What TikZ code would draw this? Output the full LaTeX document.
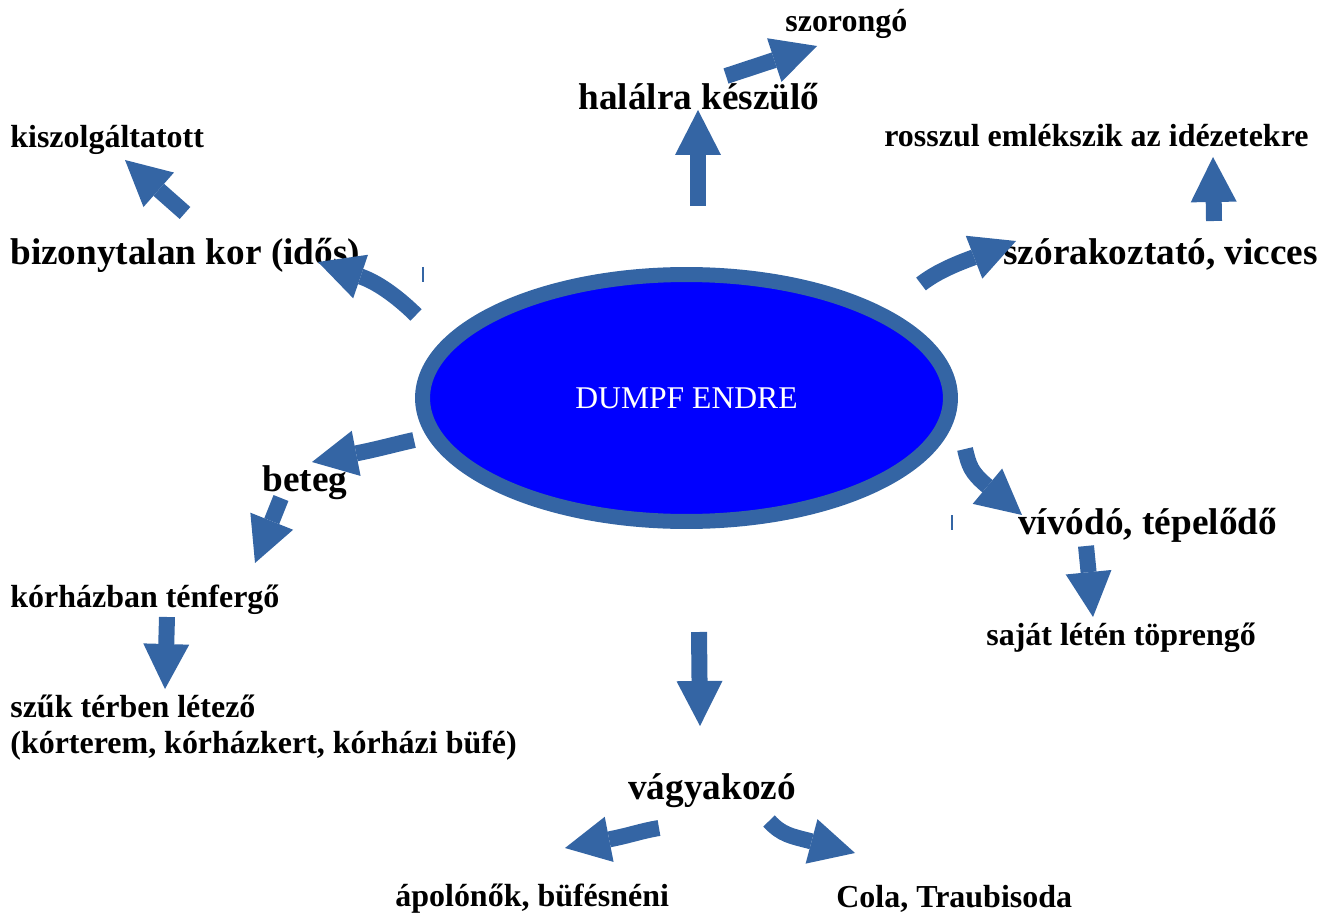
\documentclass[tikz,border=0pt]{standalone}
\usepackage{fontspec}
\setmainfont{Liberation Serif}
\usetikzlibrary{arrows.meta,shapes.geometric}
\definecolor{arrowblue}{HTML}{3465A4}

\begin{document}
\begin{tikzpicture}[x=0.02cm, y=-0.02cm,
  bigtext/.style={anchor=base west, inner sep=0pt, font=\fontsize{21.2}{25}\selectfont\bfseries},
  smalltext/.style={anchor=base west, inner sep=0pt, font=\fontsize{18.2}{22}\selectfont\bfseries},
  blockarrow/.style={draw=arrowblue, line width=0.32cm, -{Triangle[length=0.9cm, width=0.92cm, line width=0pt]}}]
 \useasboundingbox (0,0) rectangle (1334,915);

 \node[ellipse, draw=arrowblue, fill=blue, line width=0.3cm, minimum width=10.56cm, minimum height=4.94cm,
   text=white, font=\fontsize{18}{22}\selectfont] (endre) at (686.5,398) {DUMPF ENDRE};

 \node[smalltext] (szorongo) at (785,32) {szorongó};
 \node[bigtext] (halalra) at (578,110) {halálra készülő};
 \node[smalltext] (kiszolg) at (10,148) {kiszolgáltatott};
 \node[smalltext] (rosszul) at (884,147) {rosszul emlékszik az idézetekre};
 \node[bigtext] (bizonyt) at (10,265) {bizonytalan kor (idős)};
 \node[bigtext] (szorak) at (1003,265) {szórakoztató, vicces};
 \node[bigtext] (beteg) at (262,491) {beteg};
 \node[bigtext] (vivodo) at (1018,534) {vívódó, tépelődő};
 \node[smalltext] (korhaz) at (10,607) {kórházban ténfergő};
 \node[smalltext] (sajat) at (986,645) {saját létén töprengő};
 \node[smalltext] (szuk) at (10,717) {szűk térben létező};
 \node[smalltext] (korterem) at (10,753) {(kórterem, kórházkert, kórházi büfé)};
 \node[bigtext] (vagyak) at (628,799) {vágyakozó};
 \node[smalltext] (apolo) at (395,906) {ápolónők, büfésnéni};
 \node[smalltext] (cola) at (836,907) {Cola, Traubisoda};

 \coordinate (halalraS) at (698,206);   \coordinate (halalraT) at (698,110);
 \coordinate (szorongoS) at (726,76);   \coordinate (szorongoT) at (817,46);
 \coordinate (rosszulS) at (1214,221);  \coordinate (rosszulT) at (1213,157);
 \coordinate (szorakS) at (921,284);    \coordinate (szorakB) at (972,258);    \coordinate (szorakT) at (1016,241);
 \coordinate (bizonytS) at (416,315);   \coordinate (bizonytB) at (362,277);   \coordinate (bizonytT) at (318,262);
 \coordinate (kiszolgS) at (185,213);   \coordinate (kiszolgT) at (125,160);
 \coordinate (betegS) at (414,440);     \coordinate (betegB) at (358,453);     \coordinate (betegT) at (312,462);
 \coordinate (korhazS) at (281,498);    \coordinate (korhazT) at (255,563);
 \coordinate (szukS) at (167,617);      \coordinate (szukT) at (165,689);
 \coordinate (vivodoS) at (965,449);    \coordinate (vivodoB) at (986,485);    \coordinate (vivodoT) at (1022,515);
 \coordinate (sajatS) at (1086,546);    \coordinate (sajatT) at (1093,617);
 \coordinate (vagyakS) at (699,632);    \coordinate (vagyakT) at (700,726);
 \coordinate (apoloS) at (659,828);     \coordinate (apoloB) at (611,839);     \coordinate (apoloT) at (565,848);
 \coordinate (colaS) at (769,821);      \coordinate (colaB) at (810,841);      \coordinate (colaT) at (855,853);

 \draw[blockarrow] (halalraS) -- (halalraT);
 \draw[blockarrow] (szorongoS) -- (szorongoT);
 \draw[blockarrow] (rosszulS) -- (rosszulT);
 \draw[blockarrow] (szorakS) .. controls (935,273) and (953,265) .. (szorakB) -- (szorakT);
 \draw[blockarrow] (bizonytS) .. controls (402,301) and (381,284) .. (bizonytB) -- (bizonytT);
 \draw[blockarrow] (kiszolgS) -- (kiszolgT);
 \draw[blockarrow] (betegS) .. controls (396,444) and (378,449) .. (betegB) -- (betegT);
 \draw[blockarrow] (korhazS) -- (korhazT);
 \draw[blockarrow] (szukS) -- (szukT);
 \draw[blockarrow] (vivodoS) .. controls (969,466) and (971,472) .. (vivodoB) -- (vivodoT);
 \draw[blockarrow] (sajatS) -- (sajatT);
 \draw[blockarrow] (vagyakS) -- (vagyakT);
 \draw[blockarrow] (apoloS) .. controls (641,831) and (631,835) .. (apoloB) -- (apoloT);
 \draw[blockarrow] (colaS) .. controls (782,835) and (791,836) .. (colaB) -- (colaT);

 \draw[arrowblue, line width=0.03cm] (423,267) -- (423,282);
 \draw[arrowblue, line width=0.03cm] (952,515) -- (952,530);
\end{tikzpicture}
\end{document}
